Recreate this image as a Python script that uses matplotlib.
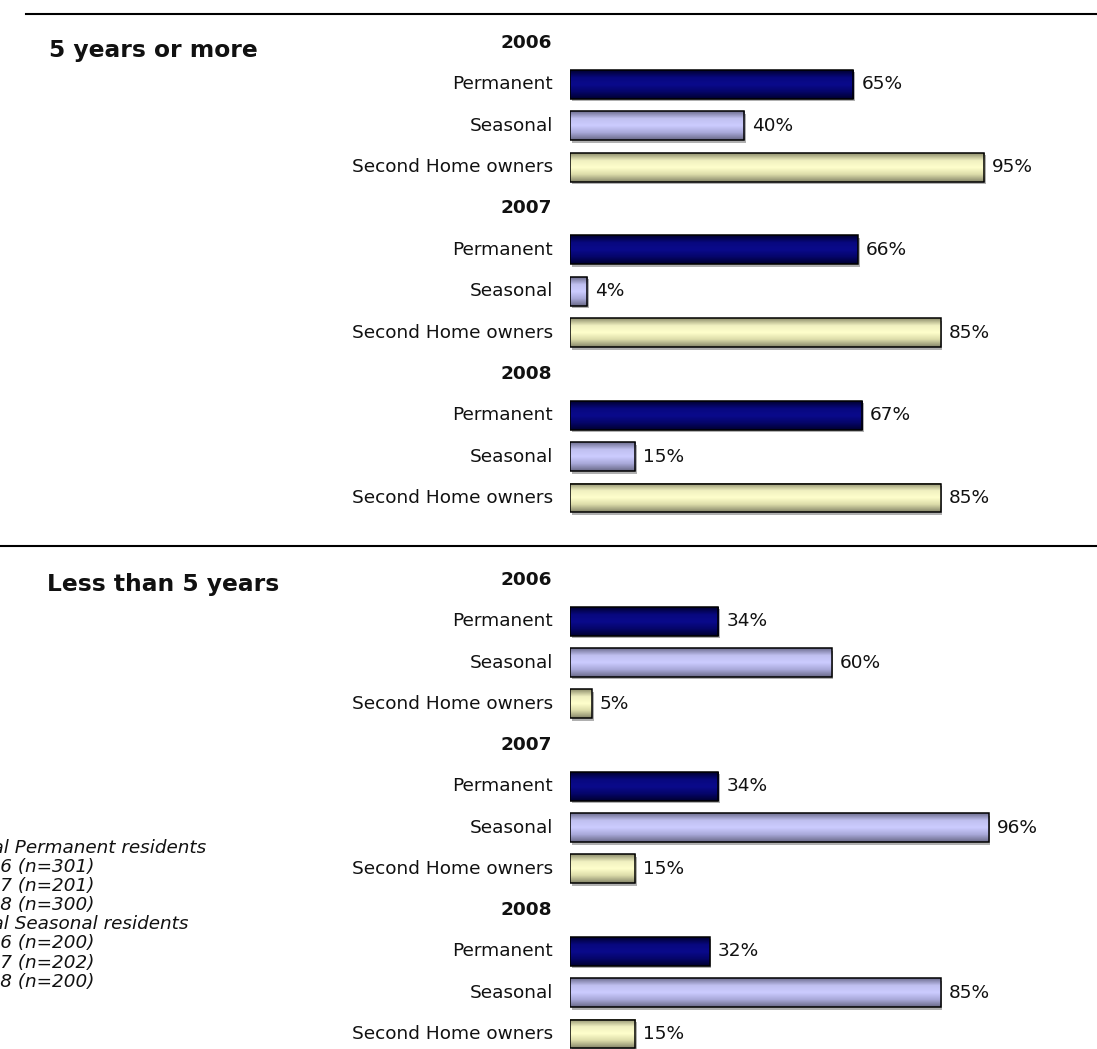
import numpy as np
import matplotlib
matplotlib.use("Agg")
import matplotlib.pyplot as plt
from matplotlib.colors import LinearSegmentedColormap
from matplotlib.patches import Rectangle
from matplotlib.lines import Line2D

# residence length by owner type, percent
years = ["2006", "2007", "2008"]
groups = ["Permanent", "Seasonal", "Second Home owners"]
more_than_5 = [[65, 40, 95], [66, 4, 85], [67, 15, 85]]
less_than_5 = [[34, 60, 5], [34, 96, 15], [32, 85, 15]]

sample_notes = [
    "Total Permanent residents",
    "2006 (n=301)",
    "2007 (n=201)",
    "2008 (n=300)",
    "Total Seasonal residents",
    "2006 (n=200)",
    "2007 (n=202)",
    "2008 (n=200)",
]

# edge / centre shades for the bar gradients
shades = {
    "Permanent": ["#000030", "#08087e", "#0a0a8c", "#05056a", "#000030"],
    "Seasonal": ["#6e6e90", "#c0c0f0", "#ccccff", "#a8a8d8", "#6a6a88"],
    "Second Home owners": ["#8e8e6c", "#f0f0c0", "#ffffcc", "#dadaa8", "#86866a"],
}

W, H, DPI = 1097, 1049, 100
PX_PER_PCT = 4.36
BAR_X0 = 570
BAR_H = 0.70
FS = 13.3

fig = plt.figure(figsize=(W / DPI, H / DPI), dpi=DPI)
plt.rcParams["font.family"] = "DejaVu Sans"


def fx(px):
    return px / W


def fy(py):
    return 1 - py / H


def section(top_px, bottom_px, values):
    ax = fig.add_axes([fx(BAR_X0), fy(bottom_px), fx(W - BAR_X0), (bottom_px - top_px) / H])
    ax.set_axis_off()
    grad = np.linspace(0, 1, 64).reshape(-1, 1)
    row = 0
    for yi, year in enumerate(years):
        ax.annotate(year, xy=(0, row), xytext=(-18, 0), textcoords="offset pixels",
                    ha="right", va="center", fontsize=FS, fontweight="bold",
                    color="#111111", annotation_clip=False)
        row += 1
        for gi, grp in enumerate(groups):
            v = values[yi][gi]
            cmap = LinearSegmentedColormap.from_list(grp, shades[grp])
            top, bot = row - BAR_H / 2, row + BAR_H / 2
            # soft shadow under the bar
            ax.add_patch(Rectangle((0.4, top + 0.06), v, BAR_H, facecolor="#b0b0b0",
                                   edgecolor="none", zorder=1))
            ax.imshow(grad, extent=(0, v, bot, top), origin="upper", aspect="auto",
                      cmap=cmap, interpolation="bilinear", zorder=2)
            ax.add_patch(Rectangle((0, top), v, BAR_H, facecolor="none",
                                   edgecolor="black", linewidth=1.1, zorder=3))
            ax.annotate(grp, xy=(0, row), xytext=(-17, 0), textcoords="offset pixels",
                        ha="right", va="center", fontsize=FS, color="#111111",
                        annotation_clip=False)
            ax.annotate(f"{v}%", xy=(v, row), xytext=(8, 0), textcoords="offset pixels",
                        ha="left", va="center", fontsize=FS, color="#111111",
                        annotation_clip=False)
            row += 1
    ax.set_xlim(0, (W - BAR_X0) / PX_PER_PCT)
    ax.set_ylim(row - 0.5, -0.5)
    return ax


section(22.3, 518.7, more_than_5)
section(559.4, 1054.6, less_than_5)

# section titles and divider rules
fig.text(fx(49), fy(50), "5 years or more", fontsize=16.8, fontweight="bold",
         ha="left", va="center", color="#111111")
fig.text(fx(47), fy(585), "Less than 5 years", fontsize=16.8, fontweight="bold",
         ha="left", va="center", color="#111111")
fig.add_artist(Line2D([fx(26), 1], [fy(14), fy(14)], color="black", linewidth=1.5))
fig.add_artist(Line2D([0, 1], [fy(546), fy(546)], color="black", linewidth=1.5))

# sample sizes, partly running off the left edge
for i, note in enumerate(sample_notes):
    fig.text(fx(-35), fy(848 + i * 19.1), note, fontsize=13.2, style="italic",
             ha="left", va="center", color="#111111")

fig.savefig("out.png", dpi=DPI)
